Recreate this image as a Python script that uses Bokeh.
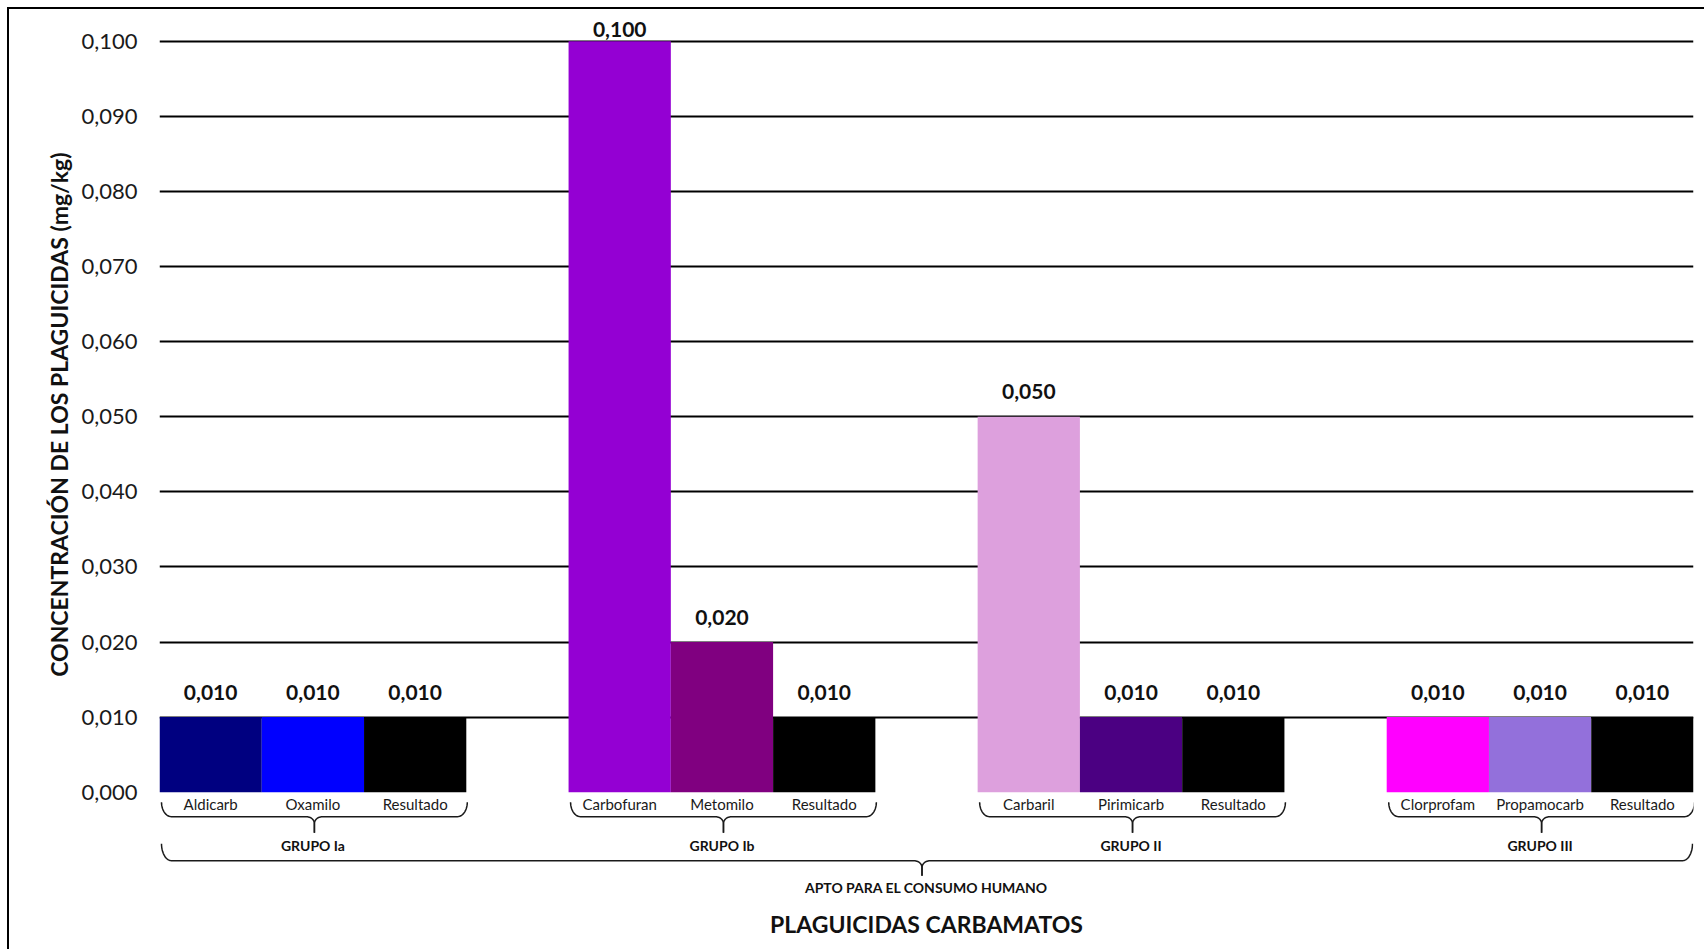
import numpy as np
from bokeh.plotting import figure
from bokeh.models import (FactorRange, Range1d, FixedTicker, CustomJSTickFormatter,
                          Title, ColumnDataSource)
from bokeh.core.properties import value
from bokeh.embed import file_html
from bokeh.resources import INLINE

# ---------------- data ----------------
groups = ["GRUPO Ia", "GRUPO Ib", "GRUPO II", "GRUPO III"]
pesticides = ["Aldicarb", "Oxamilo", "Resultado",
              "Carbofuran", "Metomilo", "Resultado",
              "Carbaril", "Pirimicarb", "Resultado",
              "Clorprofam", "Propamocarb", "Resultado"]
pesticide_group = ["GRUPO Ia"] * 3 + ["GRUPO Ib"] * 3 + ["GRUPO II"] * 3 + ["GRUPO III"] * 3
concentrations = [0.010, 0.010, 0.010,
                  0.100, 0.020, 0.010,
                  0.050, 0.010, 0.010,
                  0.010, 0.010, 0.010]
bar_colors = ["#000080", "#0000FF", "#000000",
              "#9400D3", "#800080", "#000000",
              "#DDA0DD", "#4B0082", "#000000",
              "#FF00FF", "#9370DB", "#000000"]
y_ticks = [0.0, 0.01, 0.02, 0.03, 0.04, 0.05, 0.06, 0.07, 0.08, 0.09, 0.10]
super_group = "APTO PARA EL CONSUMO HUMANO"
x_title = "PLAGUICIDAS CARBAMATOS"
y_title = "CONCENTRACIÓN DE LOS PLAGUICIDAS (mg/kg)"

# ---------------- layout ----------------
FONT = "Lato"
W, H = 1697, 942
BORDER_L, BORDER_R = 150, 13
TOP_PAD = 31.7          # px from frame top to the highest tick
ZERO_Y = 782.7          # px from frame top to y = 0
GROUP_PAD = 1.0

y_max = max(y_ticks)
ppy = (ZERO_Y - TOP_PAD) / y_max
y_start = -(H - ZERO_Y) / ppy
y_end = y_max + TOP_PAD / ppy

n_per_group = len(pesticides) // len(groups)
n_slots = len(pesticides) + (len(groups) - 1) * GROUP_PAD
frame_w = W - BORDER_L - BORDER_R
ppx = frame_w / n_slots

factors = list(zip(pesticide_group, pesticides))
x_range = FactorRange(*factors, group_padding=GROUP_PAD, factor_padding=0.0,
                      subgroup_padding=0.0, range_padding=0)

p = figure(x_range=x_range, y_range=Range1d(y_start, y_end),
           width=W, height=H, output_backend="svg", toolbar_location=None,
           min_border_left=BORDER_L, min_border_right=BORDER_R,
           min_border_top=0, min_border_bottom=0)
p.title.visible = False
p.styles = {"margin-left": "7px", "margin-top": "7px",
            "border-top": "2px solid #000", "border-left": "2px solid #000"}
p.outline_line_color = None
p.background_fill_color = "white"
p.border_fill_color = "white"

p.xaxis.visible = False
p.xgrid.visible = False
p.ygrid.ticker = FixedTicker(ticks=y_ticks[1:])
p.ygrid.grid_line_color = "#000000"
p.ygrid.grid_line_width = 2

p.yaxis.ticker = FixedTicker(ticks=y_ticks)
p.yaxis.formatter = CustomJSTickFormatter(code="return tick.toFixed(3).replace('.', ',');")
p.yaxis.axis_line_color = None
p.yaxis.major_tick_line_color = None
p.yaxis.minor_tick_line_color = None
p.yaxis.major_tick_out = 0
p.yaxis.major_tick_in = 0
p.yaxis.major_label_standoff = 22
p.yaxis.major_label_text_font = FONT
p.yaxis.major_label_text_font_size = "22px"
p.yaxis.major_label_text_color = "#1a1a1a"

# ---------------- bars ----------------
src = ColumnDataSource(dict(
    x=factors, top=concentrations, color=bar_colors,
    label=[f"{v:.3f}".replace(".", ",") for v in concentrations],
    off=[-12.0 if v >= y_max else -25.0 for v in concentrations],
))
p.vbar(x="x", top="top", bottom=0, width=1.0, fill_color="color", line_color=None, source=src)

p.text(x="x", y="top", text="label", y_offset="off", source=src,
       text_font=value(FONT), text_font_size="21px", text_font_style="bold",
       text_color="#111111", text_align="center", text_baseline="middle")

# category labels
p.text(x=factors, y=[0] * len(factors), text=pesticides, y_offset=11.6,
       text_font=value(FONT), text_font_size="15px", text_color="#1a1a1a",
       text_align="center", text_baseline="middle")

# group labels
p.text(x=groups, y=[0] * len(groups), text=groups, y_offset=53.6,
       text_font=value(FONT), text_font_size="14px", text_font_style="bold",
       text_color="#111111", text_align="center", text_baseline="middle")

x_mid = n_slots / 2
p.text(x=[x_mid], y=[0], text=[super_group], y_offset=95,
       text_font=value(FONT), text_font_size="14px", text_font_style="bold",
       text_color="#111111", text_align="center", text_baseline="middle")
p.text(x=[x_mid], y=[0], text=[x_title], y_offset=131.5,
       text_font=value(FONT), text_font_size="23px", text_font_style="bold",
       text_color="#111111", text_align="center", text_baseline="middle")


# ---------------- braces ----------------
def brace(L, R, y_top, y_mid, y_cusp, y_tip, c_shift=0.0, r_end=10.0, r_cusp=8.0, n=14):
    C = (L + R) / 2 + c_shift
    t = np.linspace(0, np.pi / 2, n)
    x1 = L + r_end - r_end * np.cos(t)
    y1 = y_top + (y_mid - y_top) * np.sin(t)
    x2 = C - r_cusp + r_cusp * np.sin(t)
    y2 = y_mid + (y_cusp - y_mid) * (1 - np.cos(t))
    x3 = R - r_end + r_end * np.cos(t)
    x4 = C + r_cusp - r_cusp * np.sin(t)
    lx = np.concatenate([x1, x2, [C]])
    ly = np.concatenate([y1, y2, [y_tip]])
    rx = np.concatenate([x3, x4, [C]])
    ry = np.concatenate([y1, y2, [y_tip]])
    conv_x = lambda a: list(a / ppx)
    conv_y = lambda a: list(-a / ppy)
    return [conv_x(lx), conv_x(rx)], [conv_y(ly), conv_y(ry)]


xs, ys = [], []
for g in range(len(groups)):
    left = g * (n_per_group + GROUP_PAD) * ppx
    right = left + n_per_group * ppx
    bx, by = brace(left + 2, right + 1, 10, 24.5, 31.5, 40.5)
    xs += bx
    ys += by
bx, by = brace(2, n_slots * ppx - 1, 51.5, 68.5, 75.5, 83.5, c_shift=-5)
xs += bx
ys += by
p.multi_line(xs=xs, ys=ys, line_color="#1a1a1a", line_width=1.5)

# ---------------- y title ----------------
p.add_layout(Title(text=y_title, align="right", offset=143, standoff=12,
                   text_font=FONT, text_font_size="23px", text_font_style="bold",
                   text_color="#111111"), "left")

open("out.html", "w").write(file_html(p, INLINE))
